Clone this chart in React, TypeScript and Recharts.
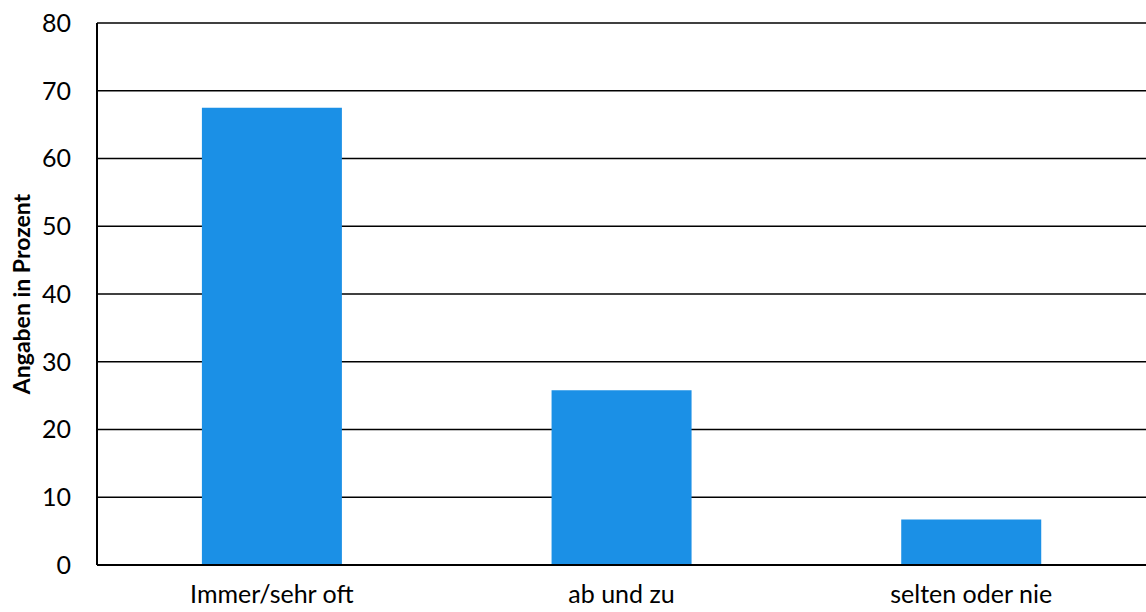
import { BarChart, Bar, XAxis, YAxis, CartesianGrid } from 'recharts';

const categories = ['Immer/sehr oft', 'ab und zu', 'selten oder nie'];
const values = [67.5, 25.8, 6.7];
const yTicks = [0, 10, 20, 30, 40, 50, 60, 70, 80];

const data = categories.map((name, i) => ({ name, value: values[i] }));

const font = 'Lato, "Open Sans", sans-serif';

export default function App() {
  return (
    <div style={{ position: 'absolute', left: 0, top: 0, background: '#fff' }}>
      <BarChart
        width={1146}
        height={612}
        data={data}
        margin={{ top: 23, right: 0, bottom: 0, left: 0 }}
        barCategoryGap="30%"
      >
        <CartesianGrid vertical={false} stroke="#000" strokeWidth={1.5} />
        <XAxis
          dataKey="name"
          height={47}
          tickLine={false}
          axisLine={{ stroke: '#000', strokeWidth: 2 }}
          tickSize={0}
          tickMargin={20}
          tick={{ fill: '#000', fontSize: 25, fontFamily: font }}
        />
        <YAxis
          width={97}
          domain={[0, 80]}
          ticks={yTicks}
          interval={0}
          tickLine={false}
          axisLine={{ stroke: '#000', strokeWidth: 2 }}
          tickSize={0}
          tickMargin={26}
          tick={{ fill: '#000', fontSize: 25, fontFamily: font }}
          label={{
            value: 'Angaben in Prozent',
            angle: -90,
            position: 'insideLeft',
            offset: 22,
            style: { textAnchor: 'middle', fill: '#000', fontSize: 23, fontWeight: 700, fontFamily: font },
          }}
        />
        <Bar dataKey="value" fill="#1B90E6" isAnimationActive={false} />
      </BarChart>
    </div>
  );
}
